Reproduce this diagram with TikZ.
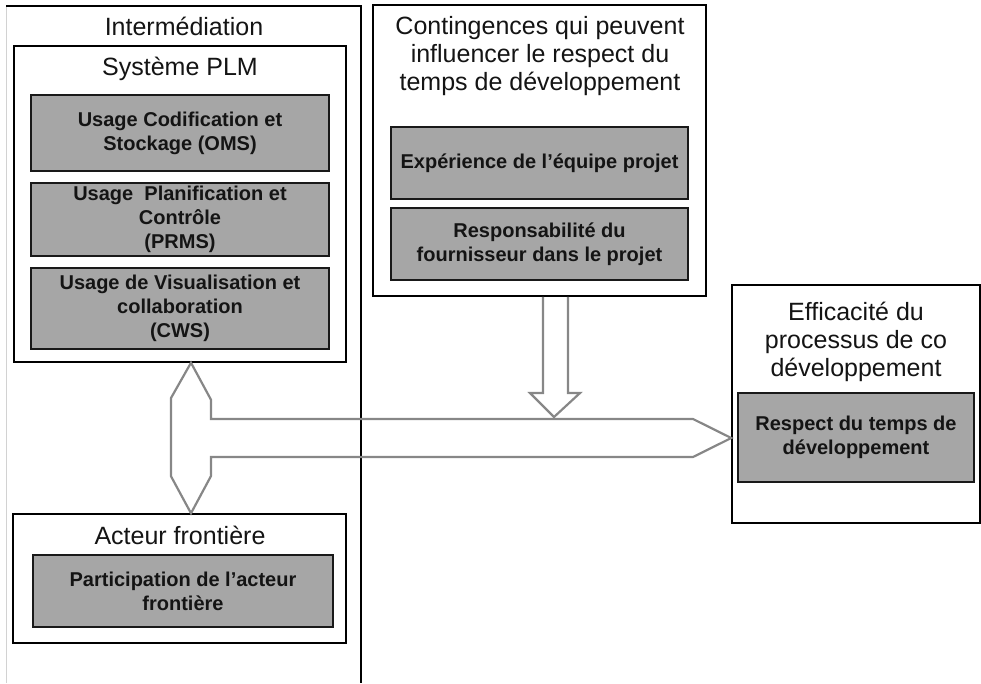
\documentclass[tikz,border=0pt]{standalone}
\usepackage{fontspec}
\setmainfont{Liberation Sans}
\usetikzlibrary{calc}
\definecolor{boxgray}{HTML}{A6A6A6}
\definecolor{arrowgray}{HTML}{878787}
\definecolor{txt}{HTML}{141414}
\definecolor{edgelight}{HTML}{D2D2D2}
\tikzset{
  framebox/.style={draw=black, line width=1.5pt, fill=white, inner sep=0pt},
  graybox/.style={draw=black!90, line width=1.8pt, fill=boxgray, inner sep=0pt,
    align=center, text=txt, font=\bfseries\fontsize{20}{24}\selectfont},
  titletext/.style={align=center, text=txt, inner sep=0pt,
    font=\fontsize{25}{28}\selectfont},
  blockarrow/.style={draw=arrowgray, line width=2.2pt, line join=miter}
}
\begin{document}
\begin{tikzpicture}[x=1pt,y=-1pt]
\useasboundingbox (0,0) rectangle (981,683);

% Intermediation outer frame (runs off the bottom)
\coordinate (iTL) at (6,6);
\coordinate (iTR) at (361,6);
\coordinate (iBL) at (6,683);
\coordinate (iBR) at (361,683);
\draw[edgelight, line width=1pt] (iBL) -- (iTL);
\draw[black, line width=1.5pt] (iTL) -- (iTR) -- (iBR);
\node[titletext, anchor=base] (tInter) at (184,35.5) {Intermédiation};

% Systeme PLM
\node[framebox, minimum width=332, minimum height=316] (plm) at (180,204) {};
\node[titletext, anchor=base] (tPLM) at (180,75) {Système PLM};
\node[graybox, minimum width=298, minimum height=76] (oms) at (180,133)
  {Usage Codification et\\Stockage (OMS)};
\node[graybox, minimum width=298, minimum height=73] (prms) at (180,219.5)
  {Usage~ Planification et\\Contrôle\\(PRMS)};
\node[graybox, minimum width=298, minimum height=81] (cws) at (180,308.5)
  {Usage de Visualisation et\\collaboration\\(CWS)};

% Contingences
\node[framebox, minimum width=333, minimum height=291] (cont) at (539.5,150.5) {};
\node[titletext] (tCont) at (540,56)
  {Contingences qui peuvent\\influencer le respect du\\temps de développement};
\node[graybox, minimum width=297, minimum height=72] (exp) at (539.5,163)
  {Expérience de l’équipe projet};
\node[graybox, minimum width=297, minimum height=72] (resp) at (539.5,244)
  {Responsabilité du\\fournisseur dans le projet};

% Efficacite
\node[framebox, minimum width=248, minimum height=238] (eff) at (856,404) {};
\node[titletext] (tEff) at (856,342)
  {Efficacité du\\processus de co\\développement};
\node[graybox, minimum width=236, minimum height=89] (time) at (856,437.5)
  {Respect du temps de\\développement};

% Acteur frontiere
\node[framebox, minimum width=333, minimum height=129] (act) at (179.5,578.5) {};
\node[titletext, anchor=base] (tAct) at (180,544) {Acteur frontière};
\node[graybox, minimum width=300, minimum height=72] (part) at (183,591)
  {Participation de l’acteur\\frontière};

% Block arrows
\coordinate (vx) at (191,0);
\coordinate (hy) at (0,438);
\draw[blockarrow] (plm.south -| vx) -- ++(20,37) -- (211,419) -- (693,419)
  -- (eff.west |- hy) -- (693,457) -- (211,457) -- (211,476)
  -- (act.north -| vx) -- ++(-20,-37) -- (171,398) -- cycle;
\coordinate (dl) at (543,0);
\coordinate (dr) at (568,0);
\draw[blockarrow] (cont.south -| dl) -- (543,393) -- (530,393) -- (554,417)
  -- (580,393) -- (568,393) -- (cont.south -| dr);
\end{tikzpicture}
\end{document}
